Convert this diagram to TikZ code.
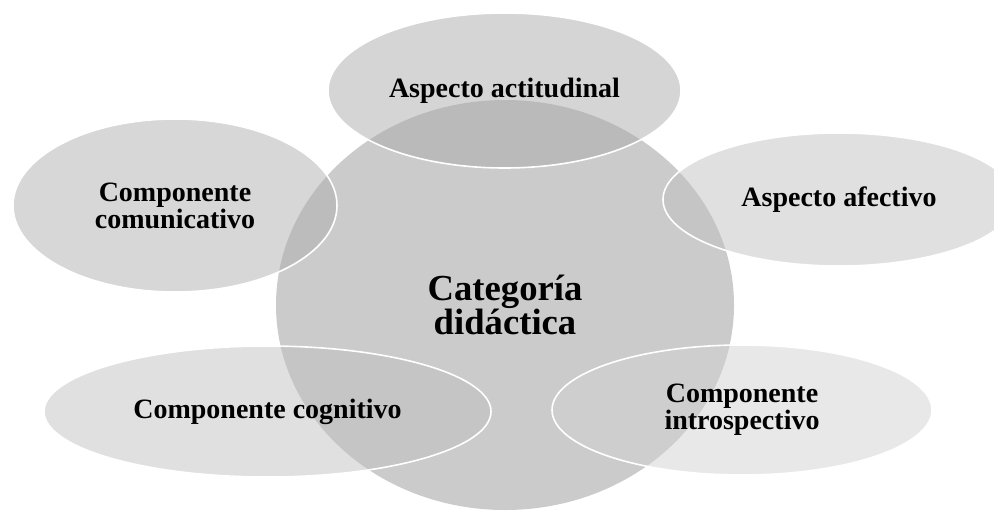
\documentclass[tikz,border=0pt]{standalone}
\usepackage{fontspec}
\setmainfont{Liberation Serif}
\usetikzlibrary{shapes.geometric}
\definecolor{hubgray}{RGB}{203,203,203}
\definecolor{pA}{RGB}{171,171,171}
\definecolor{pB}{RGB}{175,175,175}
\definecolor{pC}{RGB}{193,193,193}
\definecolor{pD}{RGB}{193,193,193}
\definecolor{pE}{RGB}{209,209,209}
\begin{document}
\begin{tikzpicture}[x=0.75pt,y=-0.75pt,
  hub/.style={ellipse, fill=hubgray, inner sep=0pt, align=center,
    font=\bfseries\fontsize{27.5}{25.5}\selectfont},
  petal/.style={ellipse, draw=white, line width=1.2pt, fill opacity=0.5,
    text opacity=1, inner sep=0pt, align=center,
    font=\bfseries\fontsize{21}{20.3}\selectfont}]
\useasboundingbox (0,0) rectangle (994,510);
\clip (0,0) rectangle (994,510);
\node[hub, minimum width=458*0.75pt, minimum height=410*0.75pt] (hub) at (505,305) {Categoría\\didáctica};
\node[petal, fill=pA, minimum width=353*0.75pt, minimum height=155*0.75pt] (top) at (504.5,90.5) {Aspecto actitudinal};
\node[petal, fill=pB, minimum width=324*0.75pt, minimum height=173*0.75pt] (left) at (175,205.5) {Componente\\comunicativo};
\node[petal, fill=pC, minimum width=352*0.75pt, minimum height=133*0.75pt] (right) at (839,199.5) {Aspecto afectivo};
\node[petal, fill=pD, minimum width=447*0.75pt, minimum height=131*0.75pt] (bl) at (267.5,411.5) {Componente cognitivo};
\node[petal, fill=pE, minimum width=380*0.75pt, minimum height=130*0.75pt] (br) at (742,410) {Componente\\introspectivo};
\end{tikzpicture}
\end{document}
